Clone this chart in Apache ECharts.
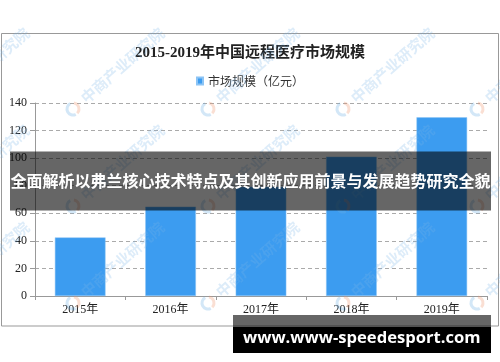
<!DOCTYPE html>
<html><head><meta charset="utf-8">
<script src="https://cdn.jsdelivr.net/npm/echarts@6/dist/echarts.min.js"></script>
<style>html,body{margin:0;padding:0;background:#fff}#c{width:500px;height:362px}</style>
</head><body><div id="c"></div>
<script>
const chartTitle = '2015-2019年中国远程医疗市场规模';
const seriesName = '市场规模（亿元）';
const years = ['2015年', '2016年', '2017年', '2018年', '2019年'];
const marketSize = [42.5, 64.8, 79.3, 101.1, 129.6];
const yMin = 0, yMax = 140, yStep = 20;
const bannerText = '全面解析以弗兰核心技术特点及其创新应用前景与发展趋势研究全貌';
const footerText = 'www.www-speedesport.com';
const watermarkText = '中商产业研究院';

const chart = echarts.init(document.getElementById('c'), null, {renderer: 'canvas'});

const wm = [];
const cols = [-62, 73, 208, 343, 477];
const rows = [109, 206, 303];
rows.forEach(function (ry) {
  cols.forEach(function (cx) {
    wm.push({type: 'arc', z: 90, silent: true,
      shape: {cx: cx, cy: ry, r: 6, startAngle: Math.PI * 0.35, endAngle: Math.PI * 1.35},
      style: {stroke: 'rgba(110,175,230,0.3)', lineWidth: 3, fill: null}});
    wm.push({type: 'arc', z: 90, silent: true,
      shape: {cx: cx, cy: ry, r: 6, startAngle: Math.PI * 1.55, endAngle: Math.PI * 2.25},
      style: {stroke: 'rgba(240,150,110,0.3)', lineWidth: 3, fill: null}});
    wm.push({type: 'text', z: 90, silent: true, x: cx + 10, y: ry - 9, rotation: 0.72,
      style: {text: watermarkText, fill: 'rgba(120,180,230,0.25)', font: 'bold 15px "Noto Sans CJK SC"',
        align: 'left', verticalAlign: 'middle'}});
  });
});

chart.setOption({
  animation: false,
  backgroundColor: '#fff',
  title: {
    text: chartTitle, left: 'center', top: 41,
    textStyle: {fontSize: 15, fontWeight: 'bold', color: '#222', fontFamily: "'Liberation Serif', 'Noto Sans CJK SC'"}
  },
  legend: {
    top: 70, left: 'center', icon: 'rect', itemWidth: 6, itemHeight: 7, itemGap: 5,
    textStyle: {fontSize: 12, color: '#333', fontFamily: "'Noto Sans CJK SC'"},
    data: [seriesName]
  },
  grid: {left: 35, right: 13, top: 103, bottom: 66, containLabel: false},
  xAxis: {
    type: 'category', data: years,
    axisLine: {show: true, lineStyle: {color: '#999', width: 1}},
    axisTick: {show: true, length: 4, lineStyle: {color: '#999'}},
    axisLabel: {margin: 8, fontSize: 12, color: '#222', fontFamily: "'Liberation Serif', 'Noto Sans CJK SC'"}
  },
  yAxis: {
    type: 'value', min: yMin, max: yMax, interval: yStep,
    axisLine: {show: true, lineStyle: {color: '#999', width: 1}},
    axisTick: {show: true, length: 5, lineStyle: {color: '#999'}},
    axisLabel: {margin: 8, fontSize: 12, color: '#222', fontFamily: "'Liberation Serif', 'DejaVu Serif'"},
    splitLine: {show: true, lineStyle: {color: '#aaa', type: [4, 3], width: 1}}
  },
  series: [{
    name: seriesName, type: 'bar', data: marketSize, barWidth: '56%',
    itemStyle: {color: '#3c9cf0', borderColor: '#8cc4f5', borderWidth: 0.5}
  }],
  graphic: [
    {type: 'rect', z: 1, silent: true, shape: {x: 1.5, y: 33.5, width: 497, height: 292.5},
      style: {fill: null, stroke: '#999', lineWidth: 1}}
  ].concat(wm).concat([
    {type: 'rect', z: 100, silent: true, shape: {x: 10, y: 151.5, width: 481, height: 59},
      style: {fill: 'rgba(0,0,0,0.6)'}},
    {type: 'text', z: 101, silent: true, x: 250.5, y: 181,
      style: {text: bannerText, fill: '#fff', font: 'bold 16px "Noto Sans CJK SC"', align: 'center', verticalAlign: 'middle'}},
    {type: 'rect', z: 100, silent: true, shape: {x: 233, y: 315, width: 258, height: 12},
      style: {fill: 'rgba(0,0,0,0.6)'}},
    {type: 'rect', z: 100, silent: true, shape: {x: 233, y: 327, width: 258, height: 26},
      style: {fill: '#000'}},
    {type: 'text', z: 101, silent: true, x: 243, y: 338,
      style: {text: footerText, fill: '#fff', font: 'bold 16.6px "Open Sans"', align: 'left', verticalAlign: 'middle'}}
  ])
});
</script>
</body></html>
